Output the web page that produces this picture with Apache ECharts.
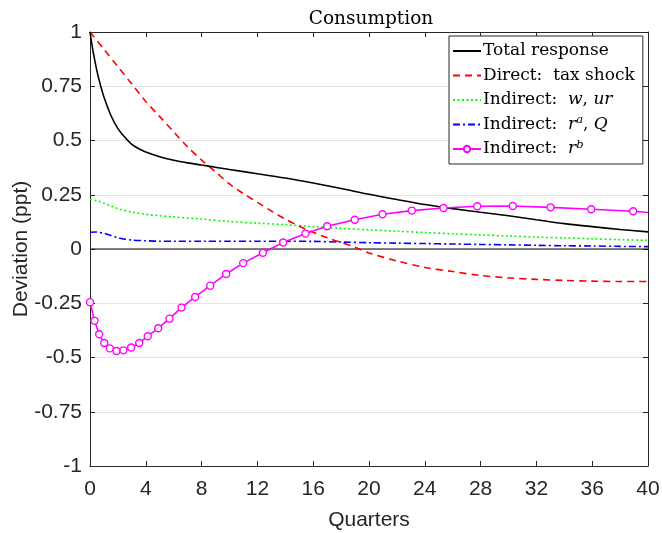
<!DOCTYPE html>
<html>
<head>
<meta charset="utf-8">
<script src="https://cdn.jsdelivr.net/npm/echarts@6/dist/echarts.min.js"></script>
<style>
  html, body { margin: 0; padding: 0; background: #fff; }
  #chart { width: 662px; height: 533px; }
</style>
</head>
<body>
<div id="chart"></div>
<script>
// Consumption response decomposition, in percentage-point deviations by quarter.
const xTicks = [0, 4, 8, 12, 16, 20, 24, 28, 32, 36, 40];
const yTicks = [-1, -0.75, -0.5, -0.25, 0, 0.25, 0.5, 0.75, 1];

const totalX = [0, 0.25, 0.5, 0.75, 1, 1.5, 2, 2.5, 3, 3.5, 4, 5, 6, 7, 8, 9, 10, 12, 14, 16, 18, 20, 22, 24, 26, 28, 30, 32, 34, 36, 38, 40];
const totalY = [1, 0.9, 0.82, 0.755, 0.7, 0.615, 0.555, 0.515, 0.482, 0.462, 0.447, 0.425, 0.409, 0.397, 0.387, 0.377, 0.366, 0.347, 0.327, 0.304, 0.279, 0.252, 0.228, 0.205, 0.186, 0.169, 0.153, 0.135, 0.117, 0.103, 0.09, 0.079];

const directX = [0, 1, 2, 3, 4, 5, 6, 7, 8, 9, 10, 11, 12, 13, 14, 15, 16, 17, 18, 19, 20, 22, 24, 26, 28, 30, 32, 34, 36, 38, 40];
const directY = [1, 0.92, 0.84, 0.76, 0.68, 0.61, 0.54, 0.47, 0.41, 0.355, 0.3, 0.255, 0.215, 0.175, 0.138, 0.105, 0.077, 0.052, 0.03, 0.008, -0.018, -0.055, -0.085, -0.104, -0.122, -0.133, -0.14, -0.145, -0.148, -0.15, -0.15];

const wageX = [0, 0.5, 1, 1.5, 2, 3, 4, 5, 6, 8, 10, 12, 14, 16, 18, 20, 22, 24, 26, 28, 30, 32, 34, 36, 38, 40];
const wageY = [0.228, 0.222, 0.211, 0.198, 0.186, 0.17, 0.16, 0.153, 0.148, 0.138, 0.127, 0.119, 0.112, 0.103, 0.095, 0.088, 0.082, 0.076, 0.07, 0.065, 0.06, 0.055, 0.051, 0.047, 0.043, 0.04];

const illiquidX = [0, 0.5, 1, 1.5, 2, 2.5, 3, 4, 5, 6, 8, 10, 12, 14, 16, 18, 20, 22, 24, 26, 28, 30, 32, 34, 36, 38, 40];
const illiquidY = [0.077, 0.078, 0.072, 0.062, 0.052, 0.045, 0.041, 0.038, 0.036, 0.036, 0.036, 0.036, 0.036, 0.036, 0.035, 0.032, 0.029, 0.027, 0.025, 0.023, 0.021, 0.019, 0.017, 0.015, 0.014, 0.012, 0.011];

const liquidX = [0, 0.32, 0.66, 1.02, 1.42, 1.9, 2.4, 2.95, 3.53, 4.14, 4.89, 5.7, 6.56, 7.54, 8.62, 9.76, 10.98, 12.39, 13.85, 15.45, 17.0, 18.98, 20.97, 23.07, 25.34, 27.76, 30.31, 33.01, 35.93, 38.94, 40];
const liquidY = [-0.245, -0.331, -0.393, -0.433, -0.458, -0.47, -0.467, -0.454, -0.433, -0.402, -0.365, -0.321, -0.27, -0.221, -0.169, -0.115, -0.065, -0.017, 0.03, 0.071, 0.105, 0.135, 0.16, 0.177, 0.189, 0.197, 0.198, 0.192, 0.183, 0.174, 0.168];

const names = ['Total response', 'Direct: tax shock', 'Indirect: w, ur', 'Indirect: ra, Q', 'Indirect: rb'];
const labelsRich = {
  'Total response': 'Total response',
  'Direct: tax shock': 'Direct:  tax shock',
  'Indirect: w, ur': 'Indirect:  {i|w}, {i|ur}',
  'Indirect: ra, Q': 'Indirect:  {i|r}{s|a}, {i|Q}',
  'Indirect: rb': 'Indirect:  {i|r}{s|b}'
};

const pair = (xs, ys) => xs.map((x, k) => [x, ys[k]]);
const serif = 'DejaVu Serif';
const sans = 'Liberation Sans';
const axisColor = '#262626';
const tickFont = 21;

const liquidData = pair(liquidX, liquidY).map((p, k, arr) =>
  k === arr.length - 1 ? { value: p, symbol: 'none' } : p);

// line-only legend keys for the unmarked series
const legendData = names.map((n, k) => k < 4 ? { name: n, itemStyle: { opacity: 0 } } : { name: n });

const option = {
  animation: false,
  backgroundColor: '#fff',
  title: {
    text: 'Consumption',
    left: 366, top: 5, textAlign: 'center',
    textStyle: { fontFamily: serif, fontSize: 18.5, fontWeight: 'normal', color: '#000' }
  },
  grid: { left: 90, right: 14, top: 32, bottom: 67, outerBoundsMode: 'none', containLabel: false },
  legend: {
    data: legendData,
    orient: 'vertical',
    left: 449, top: 36,
    padding: [5, 8, 5, 3],
    itemGap: 4.5,
    itemWidth: 28, itemHeight: 8,
    backgroundColor: '#fff',
    borderColor: '#262626', borderWidth: 1, borderRadius: 0,
    selectedMode: false,
    formatter: n => labelsRich[n],
    textStyle: {
      fontFamily: serif, fontSize: 17, color: '#000', padding: [0, 0, 0, -3], lineHeight: 20,
      rich: {
        i: { fontFamily: serif, fontStyle: 'italic', fontSize: 17, lineHeight: 20 },
        s: { fontFamily: serif, fontStyle: 'italic', fontSize: 11.5, lineHeight: 11, verticalAlign: 'top' }
      }
    }
  },
  xAxis: [{
    type: 'value', min: 0, max: 40, interval: 4,
    name: 'Quarters', nameLocation: 'middle', nameGap: 44, nameMoveOverlap: false,
    nameTextStyle: { fontFamily: sans, fontSize: tickFont, color: axisColor },
    axisLine: { onZero: false, lineStyle: { color: axisColor, width: 1 } },
    axisTick: { inside: true, length: 5, lineStyle: { color: axisColor } },
    axisLabel: { fontFamily: sans, fontSize: tickFont, color: axisColor, margin: 13,
      formatter: v => xTicks.includes(v) ? String(v) : '' },
    splitLine: { show: false }
  }, {
    type: 'value', min: 0, max: 40, interval: 4, position: 'top',
    axisLine: { onZero: false, lineStyle: { color: axisColor, width: 1 } },
    axisTick: { inside: true, length: 5, lineStyle: { color: axisColor } },
    axisLabel: { show: false }, splitLine: { show: false }
  }],
  yAxis: [{
    type: 'value', min: -1, max: 1, interval: 0.25,
    name: 'Deviation (ppt)', nameLocation: 'middle', nameGap: 58, nameMoveOverlap: false,
    nameTextStyle: { fontFamily: sans, fontSize: tickFont, color: axisColor },
    axisLine: { show: true, onZero: false, lineStyle: { color: axisColor, width: 1 } },
    axisTick: { show: true, inside: true, length: 5, lineStyle: { color: axisColor } },
    axisLabel: { fontFamily: sans, fontSize: tickFont, color: axisColor, margin: 8,
      formatter: v => yTicks.includes(v) ? String(v) : '' },
    splitLine: { show: true, lineStyle: { color: '#e3e3e3', width: 1 } }
  }, {
    type: 'value', min: -1, max: 1, interval: 0.25, position: 'right',
    axisLine: { show: true, onZero: false, lineStyle: { color: axisColor, width: 1 } },
    axisTick: { show: true, inside: true, length: 5, lineStyle: { color: axisColor } },
    axisLabel: { show: false }, splitLine: { show: false }
  }],
  series: [
    {
      name: 'zero', type: 'line', data: [[0, 0], [40, 0]], symbol: 'none', silent: true,
      lineStyle: { color: '#000', width: 1 }, z: 1
    },
    {
      name: names[0], type: 'line', data: pair(totalX, totalY), symbol: 'none', smooth: 0.3,
      lineStyle: { color: '#000', width: 1.6 }, itemStyle: { color: '#000' }, z: 5
    },
    {
      name: names[1], type: 'line', data: pair(directX, directY), symbol: 'none', smooth: 0.3,
      lineStyle: { color: '#ff0000', width: 1.6, type: [7, 5] }, itemStyle: { color: '#ff0000' }, z: 4
    },
    {
      name: names[2], type: 'line', data: pair(wageX, wageY), symbol: 'none', smooth: 0.3,
      lineStyle: { color: '#00ff00', width: 1.6, type: [2, 2.5] }, itemStyle: { color: '#00ff00' }, z: 3
    },
    {
      name: names[3], type: 'line', data: pair(illiquidX, illiquidY), symbol: 'none', smooth: 0.3,
      lineStyle: { color: '#0000ff', width: 1.6, type: [7, 3, 2, 3] }, itemStyle: { color: '#0000ff' }, z: 3
    },
    {
      name: names[4], type: 'line', data: liquidData,
      symbol: 'circle', symbolSize: 7, showSymbol: true,
      lineStyle: { color: '#ff00ff', width: 1.6 },
      itemStyle: { color: '#fff', borderColor: '#ff00ff', borderWidth: 1.4 }, z: 6
    }
  ]
};

echarts.init(document.getElementById('chart'), null, { renderer: 'canvas' }).setOption(option);
</script>
</body>
</html>
